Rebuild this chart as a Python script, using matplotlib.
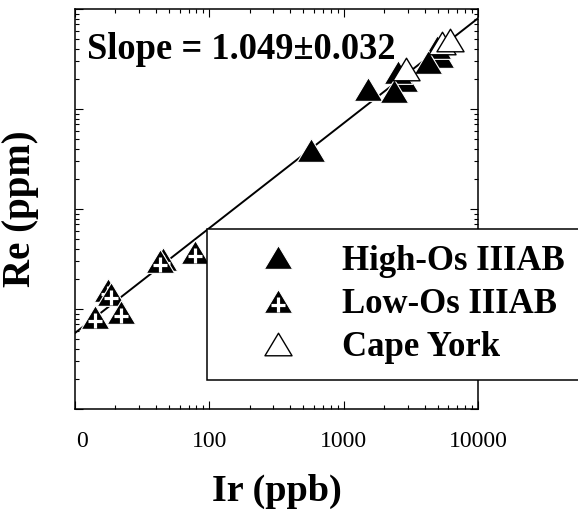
import numpy as np
import matplotlib
matplotlib.use('Agg')
import matplotlib.pyplot as plt
from matplotlib.path import Path
from matplotlib.lines import Line2D
import matplotlib.transforms as mtransforms

plt.rcParams['font.family'] = ['Liberation Serif', 'DejaVu Serif']

# ---- data (Ir in ppb, Re in ppm) ----
ir_high = [571, 2813, 2541, 5214, 4955, 1517, 2371, 4246]
re_high = [0.0389, 0.195, 0.234, 0.339, 0.417, 0.158, 0.151, 0.295]

ir_low = [17.6, 45.2, 14.2, 18.5, 22.0, 43.0, 78.2]
re_low = [0.00155, 0.00316, 0.00083, 0.00141, 0.00093, 0.00302, 0.00372]

ir_cape = [2911, 5395, 6194]
re_cape = [0.251, 0.457, 0.490]

fit_slope = 1.049
fit_logre_at_ir10 = -3.24
fit_ir_range = [10, 10000]

x_ticks = [10, 100, 1000, 10000]
x_ticklabels = ['0', '100', '1000', '10000']

# ---- markers ----
tri = Path([(0, 1), (-1.2, -1), (1.2, -1), (0, 1)],
           [Path.MOVETO, Path.LINETO, Path.LINETO, Path.CLOSEPOLY])
c, a = -0.3, 0.6
plus = Path([(-a, c), (a, c), (0, c - a), (0, c + a), (1.2, 0), (-1.2, 0)],
            [Path.MOVETO, Path.LINETO, Path.MOVETO, Path.LINETO, Path.MOVETO, Path.MOVETO])

MS = 20.5

fig = plt.figure(figsize=(5.78, 5.11), dpi=100)
ax = fig.add_axes([75/578, 1 - 409/511, 403/578, 400/511])
ax.set_xscale('log')
ax.set_yscale('log')
ax.set_xlim(10, 10000)
ax.set_ylim(1e-4, 1)

# fit line
fx = np.array(fit_ir_range, dtype=float)
fy = 10 ** (fit_logre_at_ir10 + fit_slope * (np.log10(fx) - 1))
ax.plot(fx, fy, color='black', lw=1.4, zorder=2)

# High-Os
ax.plot(ir_high, re_high, ls='none', marker=tri, ms=MS, mfc='black',
        mec='white', mew=0.8, zorder=3)
# Low-Os
for xi, yi in zip(ir_low, re_low):
    ax.plot([xi], [yi], ls='none', marker=tri, ms=MS, mfc='black',
            mec='white', mew=0.8, zorder=4)
    ax.plot([xi], [yi], ls='none', marker=plus, ms=MS, mfc='none',
            mec='white', mew=2.3, zorder=4)
# Cape York
ax.plot(ir_cape, re_cape, ls='none', marker=tri, ms=MS - 1, mfc='white',
        mec='black', mew=1.0, zorder=5)

# axes styling
for s in ax.spines.values():
    s.set_linewidth(1.1)
ax.tick_params(which='both', direction='in', top=True, right=True, width=0.8)
ax.tick_params(which='major', length=5.5)
ax.tick_params(which='minor', length=3.2)
ax.set_xticks(x_ticks)
ax.set_xticklabels(x_ticklabels, fontsize=17)
ax.tick_params(axis='x', which='major', pad=16)
ax.yaxis.set_major_formatter(plt.NullFormatter())
ax.yaxis.set_minor_formatter(plt.NullFormatter())
ax.xaxis.set_minor_formatter(plt.NullFormatter())
first = ax.get_xticklabels()[0]
first.set_transform(first.get_transform() +
                    mtransforms.ScaledTranslation(7/100, 0, fig.dpi_scale_trans))

ax.set_xlabel('Ir (ppb)', fontsize=27.5, fontweight='bold')
ax.xaxis.set_label_coords(0.5, -0.162)
ax.set_ylabel('Re (ppm)', fontsize=28, fontweight='bold')
ax.yaxis.set_label_coords(-0.09, 0.5)

fig.text(87/578, 1 - 59/511, 'Slope = 1.049\u00b10.032', fontsize=26.3,
         fontweight='bold', va='baseline', ha='left')

# legend
h_high = Line2D([], [], ls='none', marker=tri, ms=MS, mfc='black', mec='white', mew=0.8)
h_low_t = Line2D([], [], ls='none', marker=tri, ms=MS, mfc='black', mec='white', mew=0.8)
h_low_p = Line2D([], [], ls='none', marker=plus, ms=MS, mfc='none', mec='white', mew=2.3)
h_cape = Line2D([], [], ls='none', marker=tri, ms=MS - 1, mfc='white', mec='black', mew=1.0)
leg = fig.legend([h_high, (h_low_t, h_low_p), h_cape],
                 ['High-Os IIIAB', 'Low-Os IIIAB', 'Cape York'],
                 loc='upper left', bbox_to_anchor=(207/578, 1 - 229/511),
                 borderaxespad=0, borderpad=0.45, handlelength=3.2,
                 handletextpad=0.25, labelspacing=0.3, fancybox=False,
                 prop={'size': 25, 'weight': 'bold'}, framealpha=1,
                 edgecolor='black')
leg.get_frame().set_linewidth(1.1)

fig.savefig('out.png', dpi=100)
